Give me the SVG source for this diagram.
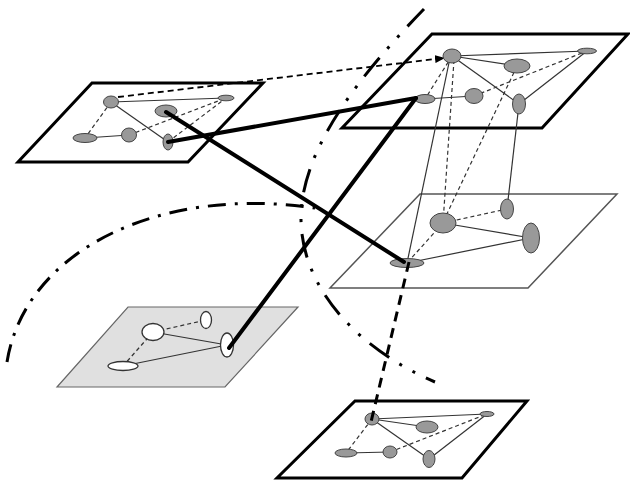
<svg xmlns="http://www.w3.org/2000/svg" width="630" height="482" viewBox="0 0 630 482">
<style>
.pl{fill:#fff;stroke:#000;stroke-width:3;stroke-linejoin:miter}
.plc{fill:#fff;stroke:#555;stroke-width:1.5}
.ple{fill:#e0e0e0;stroke:#666;stroke-width:1.2}
.nd{fill:#999;stroke:#444;stroke-width:1}
.nw{fill:#fff;stroke:#333;stroke-width:1.3}
.e{stroke:#333;stroke-width:1.2;fill:none}
.d{stroke:#333;stroke-width:1.2;fill:none;stroke-dasharray:4 3}
.thick{stroke:#000;stroke-width:4;fill:none;stroke-linecap:round}
.dd{stroke:#000;stroke-width:3;fill:none;stroke-dasharray:10 7}
.dc1{stroke:#000;stroke-width:3;fill:none;stroke-dasharray:18 9 3 9}
.dc2{stroke:#000;stroke-width:3;fill:none;stroke-dasharray:24 12 3 12 3 12}
.arr{stroke:#000;stroke-width:1.8;fill:none;stroke-dasharray:6 4}
</style>
<defs>
<marker id="ah" markerWidth="10" markerHeight="8" refX="9" refY="4" orient="auto" markerUnits="userSpaceOnUse">
<path d="M0,0 L10,4 L0,8 z" fill="#000"/>
</marker>
</defs>
<rect width="630" height="482" fill="#fff"/>

<!-- planes -->
<g id="planeC"><polygon class="plc" points="420,194 617,194 528,288 330,288"/></g>
<g id="planeE"><polygon class="ple" points="128,307 298,307 225,387 57,387"/></g>
<g id="planeD"><polygon class="pl" points="355,401 527,401 462,478 277,478"/></g>
<g id="planeB"><polygon class="pl" points="432,34 628,34 542,128 342,128"/></g>
<g id="planeA"><polygon class="pl" points="92,83 263,83 188,162 18,162"/></g>

<g id="connectors">
<!-- dash-dot curves -->
<path class="dc1" d="M7,362 C25,250 160,185 315,208"/>
<path class="dc2" d="M424,9 C360,75 300,150 301,220 C302,290 360,350 435,382"/>
<!-- plane A edges -->
<line class="e" x1="111" y1="102" x2="226" y2="98"/>
<line class="e" x1="111" y1="102" x2="168" y2="142"/>
<line class="e" x1="85" y1="138" x2="129" y2="135"/>
<line class="d" x1="111" y1="102" x2="85" y2="138"/>
<line class="d" x1="129" y1="135" x2="226" y2="98"/>
<line class="d" x1="168" y1="142" x2="226" y2="98"/>
<!-- plane B edges -->
<line class="e" x1="452" y1="56" x2="587" y2="51"/>
<line class="e" x1="452" y1="56" x2="517" y2="66"/>
<line class="e" x1="452" y1="56" x2="519" y2="104"/>
<line class="e" x1="425" y1="99" x2="474" y2="96"/>
<line class="d" x1="474" y1="96" x2="587" y2="51"/>
<line class="e" x1="519" y1="104" x2="587" y2="51"/>
<line class="d" x1="452" y1="56" x2="425" y2="99"/>
<!-- B to C -->
<line class="e" x1="450" y1="58" x2="407" y2="263"/>
<line class="d" x1="454" y1="60" x2="443" y2="223"/>
<line class="d" x1="517" y1="66" x2="445" y2="218"/>
<line class="e" x1="519" y1="104" x2="507" y2="209"/>
<!-- plane C edges -->
<line class="d" x1="443" y1="223" x2="407" y2="263"/>
<line class="d" x1="443" y1="223" x2="507" y2="209"/>
<line class="e" x1="443" y1="223" x2="531" y2="238"/>
<line class="e" x1="407" y1="263" x2="531" y2="238"/>
<!-- plane E edges -->
<line class="d" x1="153" y1="332" x2="206" y2="320"/>
<line class="e" x1="153" y1="332" x2="227" y2="345"/>
<line class="d" x1="153" y1="332" x2="123" y2="366"/>
<line class="e" x1="123" y1="366" x2="227" y2="345"/>
<!-- plane D edges -->
<line class="e" x1="372" y1="419" x2="487" y2="414"/>
<line class="e" x1="372" y1="419" x2="427" y2="427"/>
<line class="e" x1="372" y1="419" x2="429" y2="459"/>
<line class="d" x1="372" y1="419" x2="346" y2="453"/>
<line class="e" x1="346" y1="453" x2="390" y2="452"/>
<line class="d" x1="390" y1="452" x2="487" y2="414"/>
<line class="e" x1="429" y1="459" x2="487" y2="414"/>
<!-- arrow -->
<line class="arr" x1="118" y1="97" x2="444" y2="58" marker-end="url(#ah)"/>
</g>

<!-- nodes -->
<g id="A1"><ellipse class="nd" cx="111" cy="102" rx="7.5" ry="6"/></g>
<g id="A2"><ellipse class="nd" cx="166" cy="111" rx="11" ry="6"/></g>
<g id="A3"><ellipse class="nd" cx="226" cy="98" rx="8" ry="2.8"/></g>
<g id="A4"><ellipse class="nd" cx="85" cy="138" rx="12" ry="4.5"/></g>
<g id="A5"><ellipse class="nd" cx="129" cy="135" rx="7.5" ry="7"/></g>
<g id="A6"><ellipse class="nd" cx="168" cy="142" rx="5" ry="8"/></g>

<g id="B1"><ellipse class="nd" cx="452" cy="56" rx="9" ry="7"/></g>
<g id="B2"><ellipse class="nd" cx="517" cy="66" rx="13" ry="7"/></g>
<g id="B3"><ellipse class="nd" cx="587" cy="51" rx="9.5" ry="2.8"/></g>
<g id="B4"><ellipse class="nd" cx="425" cy="99" rx="10" ry="4.5"/></g>
<g id="B5"><ellipse class="nd" cx="474" cy="96" rx="9" ry="7.5"/></g>
<g id="B6"><ellipse class="nd" cx="519" cy="104" rx="6.5" ry="10"/></g>

<g id="C1"><ellipse class="nd" cx="443" cy="223" rx="13" ry="10"/></g>
<g id="C2"><ellipse class="nd" cx="507" cy="209" rx="6.5" ry="10"/></g>
<g id="C3"><ellipse class="nd" cx="531" cy="238" rx="8.5" ry="15"/></g>
<g id="C4"><ellipse class="nd" cx="407" cy="263" rx="17" ry="4.5"/></g>

<g id="E1"><ellipse class="nw" cx="153" cy="332" rx="11" ry="8.5"/></g>
<g id="E2"><ellipse class="nw" cx="206" cy="320" rx="5.5" ry="8.5"/></g>
<g id="E3"><ellipse class="nw" cx="227" cy="345" rx="6.5" ry="12"/></g>
<g id="E4"><ellipse class="nw" cx="123" cy="366" rx="15" ry="4.5"/></g>

<g id="D1"><ellipse class="nd" cx="372" cy="419" rx="7" ry="6"/></g>
<g id="D2"><ellipse class="nd" cx="427" cy="427" rx="11" ry="6"/></g>
<g id="D3"><ellipse class="nd" cx="487" cy="414" rx="7" ry="2.5"/></g>
<g id="D4"><ellipse class="nd" cx="346" cy="453" rx="11" ry="4"/></g>
<g id="D5"><ellipse class="nd" cx="390" cy="452" rx="7" ry="6"/></g>
<g id="D6"><ellipse class="nd" cx="429" cy="459" rx="6" ry="8.5"/></g>

<g id="thick-links">
<line class="thick" x1="168" y1="142" x2="416" y2="98"/>
<line class="thick" x1="416" y1="98" x2="229" y2="348"/>
<line class="thick" x1="166" y1="112" x2="404" y2="262"/>
<line class="dd" x1="409" y1="262" x2="371" y2="422"/>
</g>
</svg>
